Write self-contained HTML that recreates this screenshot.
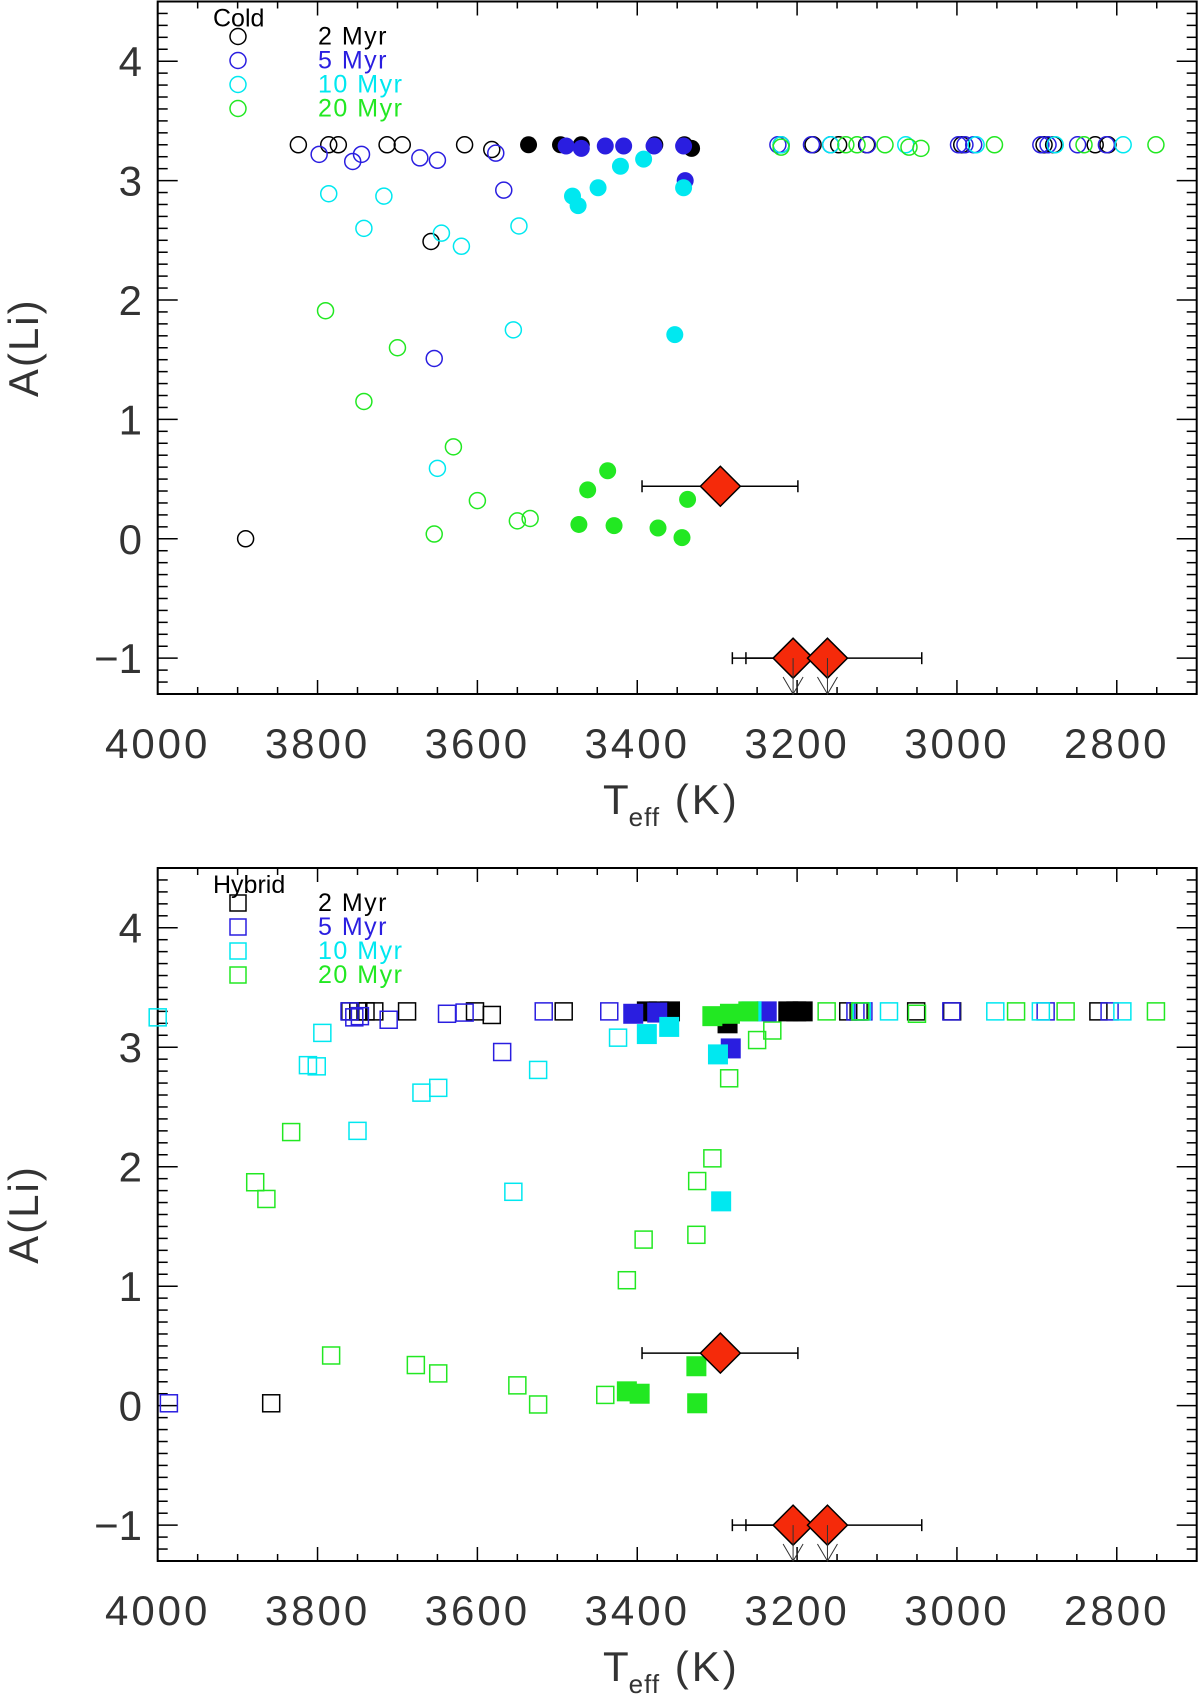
<!DOCTYPE html>
<html><head><meta charset="utf-8"><style>
html,body{margin:0;padding:0;background:#fff;}
svg{display:block;font-family:"Liberation Sans",sans-serif;}
</style></head><body>
<svg id="fig" width="1200" height="1698" viewBox="0 0 1200 1698" xmlns="http://www.w3.org/2000/svg"></svg>
<script>
// ---- data (Teff K, A(Li)) ----
const ageLabels = ["2 Myr","5 Myr","10 Myr","20 Myr"];
const ageColors = ["#000000","#2a1ee0","#00e8f0","#22e822"];
const xTicks = [4000,3800,3600,3400,3200,3000,2800];
const yTicks = [-1,0,1,2,3,4];
// Cold panel, open circles
const cold2T = [3824,3786,3774,3713,3694,3616,3582,3220,3180,3148,3113,2994,2891,2879,2827,2811,3658,3890];
const cold2A = [3.3,3.3,3.3,3.3,3.3,3.3,3.26,3.3,3.3,3.3,3.3,3.3,3.3,3.3,3.3,3.3,2.49,0.0];
const cold5T = [3798,3756,3745,3672,3650,3577,3567,3654,3224,3182,3158,3112,2998,2990,2979,2895,2886,2849,2813];
const cold5A = [3.22,3.16,3.22,3.19,3.17,3.23,2.92,1.51,3.3,3.3,3.3,3.3,3.3,3.3,3.3,3.3,3.3,3.3,3.3];
const cold10T = [3786,3717,3742,3645,3620,3548,3555,3650,3220,3158,3064,2976,2877,2792];
const cold10A = [2.89,2.87,2.6,2.56,2.45,2.62,1.75,0.59,3.3,3.3,3.3,3.3,3.3,3.3];
const cold20T = [3790,3700,3742,3630,3600,3654,3550,3534,3220,3139,3125,3090,3060,3045,2953,2841,2751];
const cold20A = [1.91,1.6,1.15,0.77,0.32,0.04,0.15,0.17,3.28,3.3,3.3,3.3,3.28,3.27,3.3,3.3,3.3];
// Cold panel, filled circles
const cold2fT = [3536,3496,3470,3378,3341,3332];
const cold2fA = [3.3,3.3,3.3,3.3,3.3,3.27];
const cold5fT = [3489,3470,3440,3417,3379,3342,3340];
const cold5fA = [3.29,3.27,3.29,3.29,3.29,3.29,3.0];
const cold10fT = [3481,3474,3449,3421,3392,3342,3353];
const cold10fA = [2.87,2.79,2.94,3.12,3.18,2.94,1.71];
const cold20fT = [3473,3462,3437,3429,3374,3344,3337];
const cold20fA = [0.12,0.41,0.57,0.11,0.09,0.01,0.33];
// Hybrid panel, open squares
const hyb2T = [3858,3759,3749,3740,3729,3688,3603,3582,3492,3136,3123,3051,3006,2823];
const hyb2A = [0.02,3.3,3.3,3.3,3.3,3.3,3.3,3.27,3.3,3.3,3.3,3.3,3.3,3.3];
const hyb5T = [3986,3760,3754,3747,3711,3638,3616,3517,3435,3569,3127,3117,3007,2889,2809];
const hyb5A = [0.02,3.3,3.25,3.26,3.23,3.28,3.29,3.3,3.3,2.96,3.3,3.3,3.3,3.3,3.3];
const hyb10T = [4000,3794,3812,3801,3750,3670,3649,3524,3555,3424,3119,3085,2952,2895,2793];
const hyb10A = [3.25,3.12,2.85,2.84,2.3,2.62,2.66,2.81,1.79,3.08,3.3,3.3,3.3,3.3,3.3];
const hyb20T = [3833,3878,3864,3783,3677,3649,3550,3524,3440,3413,3392,3326,3325,3306,3285,3250,3231,3163,3121,3050,2926,2864,2751];
const hyb20A = [2.29,1.87,1.73,0.42,0.34,0.27,0.17,0.01,0.09,1.05,1.39,1.43,1.88,2.07,2.74,3.06,3.14,3.3,3.3,3.28,3.3,3.3,3.3];
// Hybrid panel, filled squares
const hyb2fT = [3388,3373,3359,3287,3211,3201,3193];
const hyb2fA = [3.3,3.3,3.3,3.2,3.3,3.3,3.3];
const hyb5fT = [3405,3375,3283,3238];
const hyb5fA = [3.28,3.29,2.99,3.3];
const hyb10fT = [3388,3360,3299,3295,3257];
const hyb10fA = [3.11,3.17,2.94,1.71,3.3];
const hyb20fT = [3413,3397,3326,3325,3306,3284,3261];
const hyb20fA = [0.12,0.1,0.33,0.02,3.26,3.28,3.3];
// Observed stars (red diamonds)
const obsT = [3296,3205,3162];
const obsA = [0.44,-1.0,-1.0];
const obsLo = [3394,3281,3264];
const obsHi = [3199,3170,3044];
const obsUpper = [false,true,true];

// ---- drawing ----
const NS="http://www.w3.org/2000/svg";
const svg=document.getElementById('fig');
function mk(tag,attrs,parent){const e=document.createElementNS(NS,tag);for(const k in attrs)e.setAttribute(k,attrs[k]);(parent||svg).appendChild(e);return e;}
const L=157.7,R=1196.7,X0=4000,X1=2700,Y0=-1.3,Y1=4.5;
function xs(t){return L+(X0-t)/(X0-X1)*(R-L);}

function panel(top,bot,name,title,sym,openSets,fillSets){
  const g=mk('g',{});
  
  
  const ys=a=>bot-(a-Y0)/(Y1-Y0)*(bot-top);
  const fr=mk('rect',{x:L,y:top,width:R-L,height:bot-top,fill:'none',stroke:'#000','stroke-width':2},g);
  
  
  for(let t=4000;t>=2700;t-=50){
    const x=xs(t);const maj=(t%200===0);const len=maj?14:7;
    mk('line',{x1:x,y1:bot,x2:x,y2:bot-len,stroke:'#000','stroke-width':1.5},g);
    mk('line',{x1:x,y1:top,x2:x,y2:top+len,stroke:'#000','stroke-width':1.5},g);
  }
  xTicks.forEach(t=>{
    const tx=mk('text',{x:xs(t),y:bot+64,'text-anchor':'middle','font-size':42,'letter-spacing':3,fill:'#333'},g);
    tx.textContent=t;
    
    
  });
  for(let i=-13;i<=45;i++){
    const a=i/10;const y=ys(a);const maj=(i%10===0);const len=maj?20:10;
    mk('line',{x1:L,y1:y,x2:L+len,y2:y,stroke:'#000','stroke-width':1.5},g);
    mk('line',{x1:R,y1:y,x2:R-len,y2:y,stroke:'#000','stroke-width':1.5},g);
  }
  yTicks.forEach(a=>{
    const tx=mk('text',{x:142,y:ys(a)+15,'text-anchor':'end','font-size':42,fill:'#333'},g);
    tx.textContent=a<0?'\u2212'+(-a):a;
    
    
  });
  const yt=mk('text',{x:0,y:0,'text-anchor':'middle','font-size':42,'letter-spacing':2,fill:'#333',transform:`translate(38,${(top+bot)/2}) rotate(-90)`},g);
  yt.textContent='A(Li)';
  
  
  const xt=mk('text',{x:603,y:bot+120,'font-size':42,fill:'#333'},g);
  xt.setAttribute('xml:space','preserve');
  xt.innerHTML='T<tspan font-size="26" dy="12" letter-spacing="1">eff</tspan><tspan dy="-12" font-size="42" letter-spacing="3">  (K)</tspan>';
  
  
  const lt=mk('text',{x:213,y:top+25,'font-size':25,fill:'#000'},g);
  lt.textContent=title;
  
  
  ageLabels.forEach((lab,i)=>{
    const cy=top+35+i*24;
    const m=sym==='c'?mk('circle',{cx:238,cy:cy,r:8,fill:'none',stroke:ageColors[i],'stroke-width':1.5},g)
                     :mk('rect',{x:230,y:cy-8,width:16,height:16,fill:'none',stroke:ageColors[i],'stroke-width':1.5},g);
    
    
    const t=mk('text',{x:318,y:cy+8,'font-size':25,'letter-spacing':1.5,fill:ageColors[i]},g);
    t.setAttribute('xml:space','preserve');
    t.textContent=lab.replace(' ','  ');
    
    
  });
  openSets.forEach((s,i)=>{
    s[0].forEach((T,j)=>{
      const x=xs(T),y=ys(s[1][j]);
      const m=sym==='c'?mk('circle',{cx:x,cy:y,r:8,fill:'none',stroke:ageColors[i],'stroke-width':1.5},g)
                       :mk('rect',{x:x-8.5,y:y-8.5,width:17,height:17,fill:'none',stroke:ageColors[i],'stroke-width':1.5},g);
      
      
    });
  });
  fillSets.forEach((s,i)=>{
    s[0].forEach((T,j)=>{
      const x=xs(T),y=ys(s[1][j]);
      const m=sym==='c'?mk('circle',{cx:x,cy:y,r:8.5,fill:ageColors[i]},g)
                       :mk('rect',{x:x-10,y:y-10,width:20,height:20,fill:ageColors[i]},g);
      
      
    });
  });
  obsT.forEach((T,j)=>{
    const y=ys(obsA[j]);
    const e=mk('g',{},g);
    
    
    mk('line',{x1:xs(obsLo[j]),y1:y,x2:xs(obsHi[j]),y2:y,stroke:'#000','stroke-width':1.5},e);
    mk('line',{x1:xs(obsLo[j]),y1:y-6,x2:xs(obsLo[j]),y2:y+6,stroke:'#000','stroke-width':1.5},e);
    mk('line',{x1:xs(obsHi[j]),y1:y-6,x2:xs(obsHi[j]),y2:y+6,stroke:'#000','stroke-width':1.5},e);
  });
  obsT.forEach((T,j)=>{
    const x=xs(T),y=ys(obsA[j]);
    const d=mk('polygon',{points:`${x-20},${y} ${x},${y-20} ${x+20},${y} ${x},${y+20}`,fill:'#f52a0a',stroke:'#000','stroke-width':1.5},g);
    
    
    if(obsUpper[j]){
      const a=mk('path',{d:`M${x},${y} L${x},${bot} M${x-10},${bot-17} L${x},${bot} L${x+10},${bot-17}`,fill:'none',stroke:'#333','stroke-width':1},g);
      
      
    }
  });
}
panel(1.5,694,'cold','Cold','c',
  [[cold2T,cold2A],[cold5T,cold5A],[cold10T,cold10A],[cold20T,cold20A]],
  [[cold2fT,cold2fA],[cold5fT,cold5fA],[cold10fT,cold10fA],[cold20fT,cold20fA]]);
panel(868,1561,'hybrid','Hybrid','s',
  [[hyb2T,hyb2A],[hyb5T,hyb5A],[hyb10T,hyb10A],[hyb20T,hyb20A]],
  [[hyb2fT,hyb2fA],[hyb5fT,hyb5fA],[hyb10fT,hyb10fA],[hyb20fT,hyb20fA]]);
</script>
</body></html>
